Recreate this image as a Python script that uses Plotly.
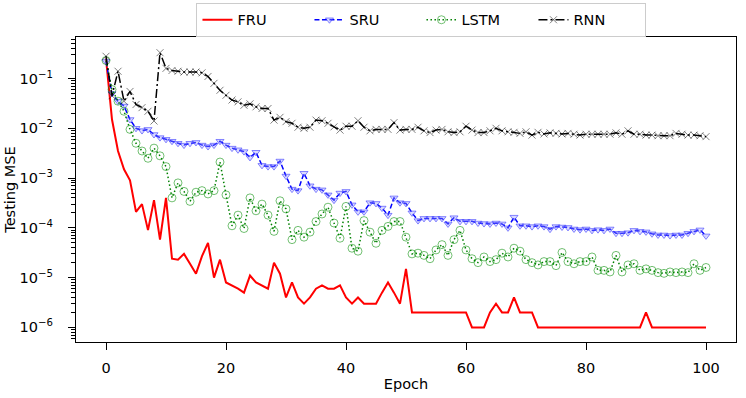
import plotly.graph_objects as go

epochs = list(range(101))

fru = [0.25, 0.015, 0.0035, 0.0015, 0.0009, 0.00021, 0.0003, 0.00009, 0.00036, 0.000058,
       0.0004, 0.000024, 0.000023, 0.00003, 0.000019, 0.000012, 0.000027, 0.00005, 0.00001, 0.000023,
       0.000008, 0.000007, 0.000006, 0.000005, 0.000011, 0.000008, 0.000007, 0.000006, 0.00002, 0.000012,
       0.000004, 0.000008, 0.000004, 0.000003, 0.000004, 0.000006, 0.000007, 0.000006, 0.000006, 0.000007,
       0.000004, 0.000003, 0.000004, 0.000003, 0.000003, 0.000003, 0.000005, 0.000008, 0.000005, 0.000003,
       0.000015] + [0.000002] * 10 + [0.000001] * 3 + \
      [0.000002, 0.000003, 0.000002, 0.000002, 0.000004, 0.000002, 0.000002, 0.000002] + \
      [0.000001] * 18 + [0.000002] + [0.000001] * 10

sru = [0.22, 0.05, 0.035, 0.028, 0.015, 0.01, 0.009, 0.0095, 0.0075, 0.0065,
       0.006, 0.0055, 0.005, 0.0046, 0.005, 0.0052, 0.0046, 0.0043, 0.0046, 0.0055,
       0.0046, 0.004, 0.0037, 0.0034, 0.0026, 0.0033, 0.0018, 0.0017, 0.0017, 0.0022,
       0.0011, 0.0006, 0.00056, 0.00125, 0.0007, 0.0006, 0.00058, 0.00046, 0.00036, 0.0005,
       0.00054, 0.00029, 0.00021, 0.00021, 0.00032, 0.00031, 0.00025, 0.00018, 0.0004, 0.00032,
       0.00031, 0.0002, 0.00014, 0.000155, 0.000155, 0.000155, 0.000155, 0.00012, 0.00016, 0.000135,
       0.000135, 0.000135, 0.000125, 0.000122, 0.00012, 0.000125, 0.00012, 0.0001, 0.000164, 0.00011,
       0.00011, 0.000106, 0.00011, 0.000106, 0.000094, 0.000106, 0.000104, 0.000102, 0.000095, 0.000092,
       0.000095, 0.000089, 0.000092, 0.000089, 0.000095, 0.000078, 0.000078, 0.00008, 0.000089, 0.000085,
       0.000083, 0.000076, 0.000072, 0.000072, 0.00007, 0.000072, 0.000072, 0.000078, 0.000085, 0.000091,
       0.000069]

lstm = [0.23, 0.06, 0.035, 0.022, 0.0095, 0.005, 0.0035, 0.0025, 0.004, 0.0028,
        0.0017, 0.0004, 0.0008, 0.00054, 0.00034, 0.00052, 0.00056, 0.00048, 0.00056, 0.0021,
        0.00046, 0.00011, 0.00018, 0.000097, 0.0004, 0.00022, 0.0003, 0.00018, 0.000085, 0.00035,
        0.00024, 0.000058, 0.000089, 0.000065, 0.000082, 0.000134, 0.00019, 0.00026, 0.000125, 0.000062,
        0.00027, 0.000039, 0.000034, 0.00014, 0.000082, 0.000049, 0.000089, 0.000107, 0.000134, 0.000134,
        0.000065, 0.00003, 0.000031, 0.000028, 0.000024, 0.000036, 0.000046, 0.000028, 0.000058, 0.000089,
        0.000036, 0.000024, 0.00002, 0.000026, 0.000021, 0.000023, 0.000031, 0.000026, 0.000039, 0.000034,
        0.000023, 0.00002, 0.000018, 0.000021, 0.000021, 0.0000174, 0.000032, 0.000021, 0.000019, 0.000021,
        0.000021, 0.000026, 0.000014, 0.000014, 0.000013, 0.000028, 0.000013, 0.000018, 0.000019, 0.000014,
        0.000015, 0.000014, 0.0000126, 0.0000122, 0.000013, 0.0000126, 0.000013, 0.0000126, 0.000019, 0.000014,
        0.000016]

rnn = [0.28, 0.045, 0.14, 0.035, 0.055, 0.03, 0.026, 0.022, 0.014, 0.33,
       0.16, 0.145, 0.14, 0.135, 0.135, 0.135, 0.13, 0.11, 0.08, 0.058,
       0.046, 0.037, 0.034, 0.029, 0.031, 0.027, 0.025, 0.025, 0.0146, 0.0166,
       0.0136, 0.0126, 0.0105, 0.01, 0.0105, 0.0146, 0.0142, 0.0126, 0.0107, 0.0092,
       0.011, 0.011, 0.0142, 0.0105, 0.0089, 0.0095, 0.0095, 0.0095, 0.013, 0.0092,
       0.0095, 0.0095, 0.0105, 0.0089, 0.0082, 0.0092, 0.0095, 0.0085, 0.0082, 0.0085,
       0.011, 0.0092, 0.0082, 0.0082, 0.0089, 0.01, 0.0089, 0.0085, 0.0083, 0.0079,
       0.0085, 0.0073, 0.0083, 0.0077, 0.0081, 0.0079, 0.0077, 0.0079, 0.0076, 0.0073,
       0.0076, 0.0076, 0.0076, 0.0076, 0.0076, 0.0081, 0.0076, 0.0089, 0.0076, 0.0076,
       0.0073, 0.0073, 0.0071, 0.0071, 0.0071, 0.0079, 0.0076, 0.0073, 0.0073, 0.0071,
       0.0068]

x_ticks = [0, 20, 40, 60, 80, 100]
y_ticks = [1e-1, 1e-2, 1e-3, 1e-4, 1e-5, 1e-6]
y_tick_text = ["10<sup>\u22121</sup>", "10<sup>\u22122</sup>", "10<sup>\u22123</sup>",
               "10<sup>\u22124</sup>", "10<sup>\u22125</sup>", "10<sup>\u22126</sup>"]

minor_vals = [k * 10.0 ** n for n in range(-7, 1) for k in range(2, 10)]

FONT = "DejaVu Sans"

fig = go.Figure()
fig.add_trace(go.Scatter(x=epochs, y=fru, name="FRU", mode="lines",
                         line=dict(color="#ff0000", width=2)))
fig.add_trace(go.Scatter(x=epochs, y=sru, name="SRU", mode="lines+markers",
                         line=dict(color="#0000ff", width=1.5, dash="5px,2.5px"),
                         marker=dict(symbol="triangle-down", size=7,
                                     color="rgba(150,150,255,0.35)",
                                     line=dict(color="rgba(60,60,255,0.6)", width=1))))
fig.add_trace(go.Scatter(x=epochs, y=lstm, name="LSTM", mode="lines+markers",
                         line=dict(color="#008000", width=1.5, dash="1.5px,2.5px"),
                         marker=dict(symbol="circle-open", size=8,
                                     color="rgba(0,140,0,0.55)",
                                     line=dict(width=1))))
fig.add_trace(go.Scatter(x=epochs, y=rnn, name="RNN", mode="lines+markers",
                         line=dict(color="#000000", width=1.5, dash="9px,3px,2px,3px"),
                         marker=dict(symbol="x-thin-open", size=7,
                                     color="rgba(0,0,0,0.5)",
                                     line=dict(width=1))))

fig.update_layout(
    width=746, height=398,
    margin=dict(l=75.5, r=10.3, t=36.7, b=55.7, autoexpand=False),
    paper_bgcolor="white", plot_bgcolor="white",
    font=dict(family=FONT, size=14.5, color="black"),
    showlegend=True,
    legend=dict(orientation="h", x=(196 - 75.5) / 660.2, xanchor="left",
                y=1.112, yanchor="top",
                bordercolor="#cccccc", borderwidth=1, bgcolor="white",
                entrywidth=67, entrywidthmode="pixels",
                font=dict(family=FONT, size=14.5)),
)

fig.update_xaxes(range=[-5, 105], tickmode="array", tickvals=x_ticks, automargin=False,
                 ticks="outside", ticklen=7, tickwidth=1.2, tickcolor="black",
                 ticklabelstandoff=5,
                 showline=True, linecolor="black", linewidth=1.2, mirror=True,
                 showgrid=False, zeroline=False,
                 title=dict(text="Epoch", standoff=4, font=dict(family=FONT, size=14.5)))

fig.update_yaxes(type="log", range=[-6.293, -0.166], tickmode="array", automargin=False,
                 tickvals=y_ticks, ticktext=y_tick_text,
                 ticks="outside", ticklen=7, tickwidth=1.2, tickcolor="black",
                 ticklabelstandoff=12,
                 minor=dict(tickmode="array", tickvals=minor_vals, ticks="outside",
                            ticklen=4, tickwidth=1, tickcolor="black", showgrid=False),
                 showline=True, linecolor="black", linewidth=1.2, mirror=True,
                 showgrid=False, zeroline=False,
                 title=dict(text="Testing MSE", standoff=0, font=dict(family=FONT, size=14.5)))

fig.write_html("out.html", config={"displayModeBar": False},
               post_script="document.body.style.margin='0px';")
